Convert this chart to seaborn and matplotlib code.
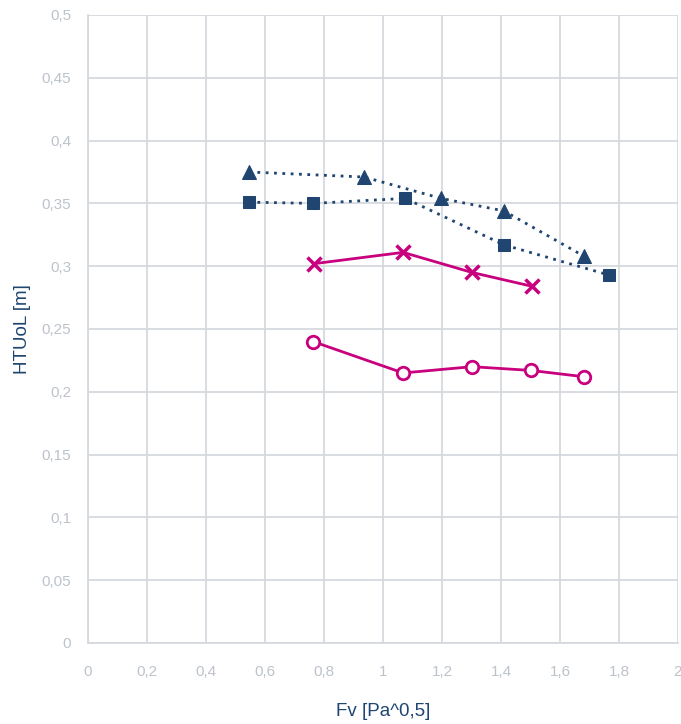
import numpy as np
import pandas as pd
import matplotlib
matplotlib.use("Agg")
import matplotlib.pyplot as plt
import seaborn as sns

# series
tri_x = [0.546, 0.936, 1.197, 1.410, 1.681]
tri_y = [0.375, 0.371, 0.354, 0.344, 0.308]

sq_x = [0.546, 0.763, 1.075, 1.410, 1.766]
sq_y = [0.351, 0.350, 0.354, 0.317, 0.293]

cross_x = [0.766, 1.068, 1.302, 1.505]
cross_y = [0.302, 0.311, 0.295, 0.284]

circ_x = [0.763, 1.068, 1.302, 1.502, 1.681]
circ_y = [0.240, 0.215, 0.220, 0.217, 0.212]

x_ticks = [0, 0.2, 0.4, 0.6, 0.8, 1, 1.2, 1.4, 1.6, 1.8, 2]
y_ticks = [0, 0.05, 0.1, 0.15, 0.2, 0.25, 0.3, 0.35, 0.4, 0.45, 0.5]

navy = "#1f4570"
magenta = "#c8007e"
grid_c = "#d5d9de"
tick_c = "#bcc3cb"

sns.set_style("white")
plt.rcParams['font.family'] = ['Liberation Sans', 'DejaVu Sans']

fig = plt.figure(figsize=(6.81, 7.24), dpi=100)
ax = fig.add_axes([88/681, 81/724, 590/681, 628/724])

sns.lineplot(x=tri_x, y=tri_y, ax=ax, color=navy, linestyle=(0, (1, 2)), lw=2,
             marker="^", markersize=10, markeredgecolor=navy, sort=False)
sns.lineplot(x=sq_x, y=sq_y, ax=ax, color=navy, linestyle=(0, (1, 2)), lw=2,
             marker="s", markersize=9, markeredgecolor=navy, sort=False)
sns.lineplot(x=cross_x, y=cross_y, ax=ax, color=magenta, lw=2,
             marker="x", markersize=10, markeredgewidth=2.5,
             markeredgecolor=magenta, sort=False)
sns.lineplot(x=circ_x, y=circ_y, ax=ax, color=magenta, lw=2,
             marker="o", markersize=9, markerfacecolor="white",
             markeredgecolor=magenta, markeredgewidth=2, sort=False)

ax.set_xlim(0, 2)
ax.set_ylim(0, 0.5)
ax.set_xticks(x_ticks)
ax.set_yticks(y_ticks)
ax.set_xticklabels([f"{t:g}".replace(".", ",") for t in x_ticks])
ax.set_yticklabels([f"{t:g}".replace(".", ",") for t in y_ticks])
ax.tick_params(colors=tick_c, labelsize=11, length=0, pad=12)
ax.tick_params(axis="x", pad=16)
ax.grid(True, color=grid_c, lw=1.3)
ax.set_axisbelow(True)
for s in ax.spines.values():
    s.set_visible(False)
ax.spines["left"].set_visible(True)
ax.spines["bottom"].set_visible(True)
ax.spines["left"].set_color(grid_c)
ax.spines["bottom"].set_color(grid_c)
ax.spines["left"].set_linewidth(1.3)
ax.spines["bottom"].set_linewidth(1.3)

ax.set_xlabel("Fv [Pa^0,5]", color=navy, fontsize=13.5, labelpad=17)
ax.set_ylabel("HTUoL [m]", color=navy, fontsize=13.5, labelpad=8)

fig.savefig("out.png", dpi=100)
